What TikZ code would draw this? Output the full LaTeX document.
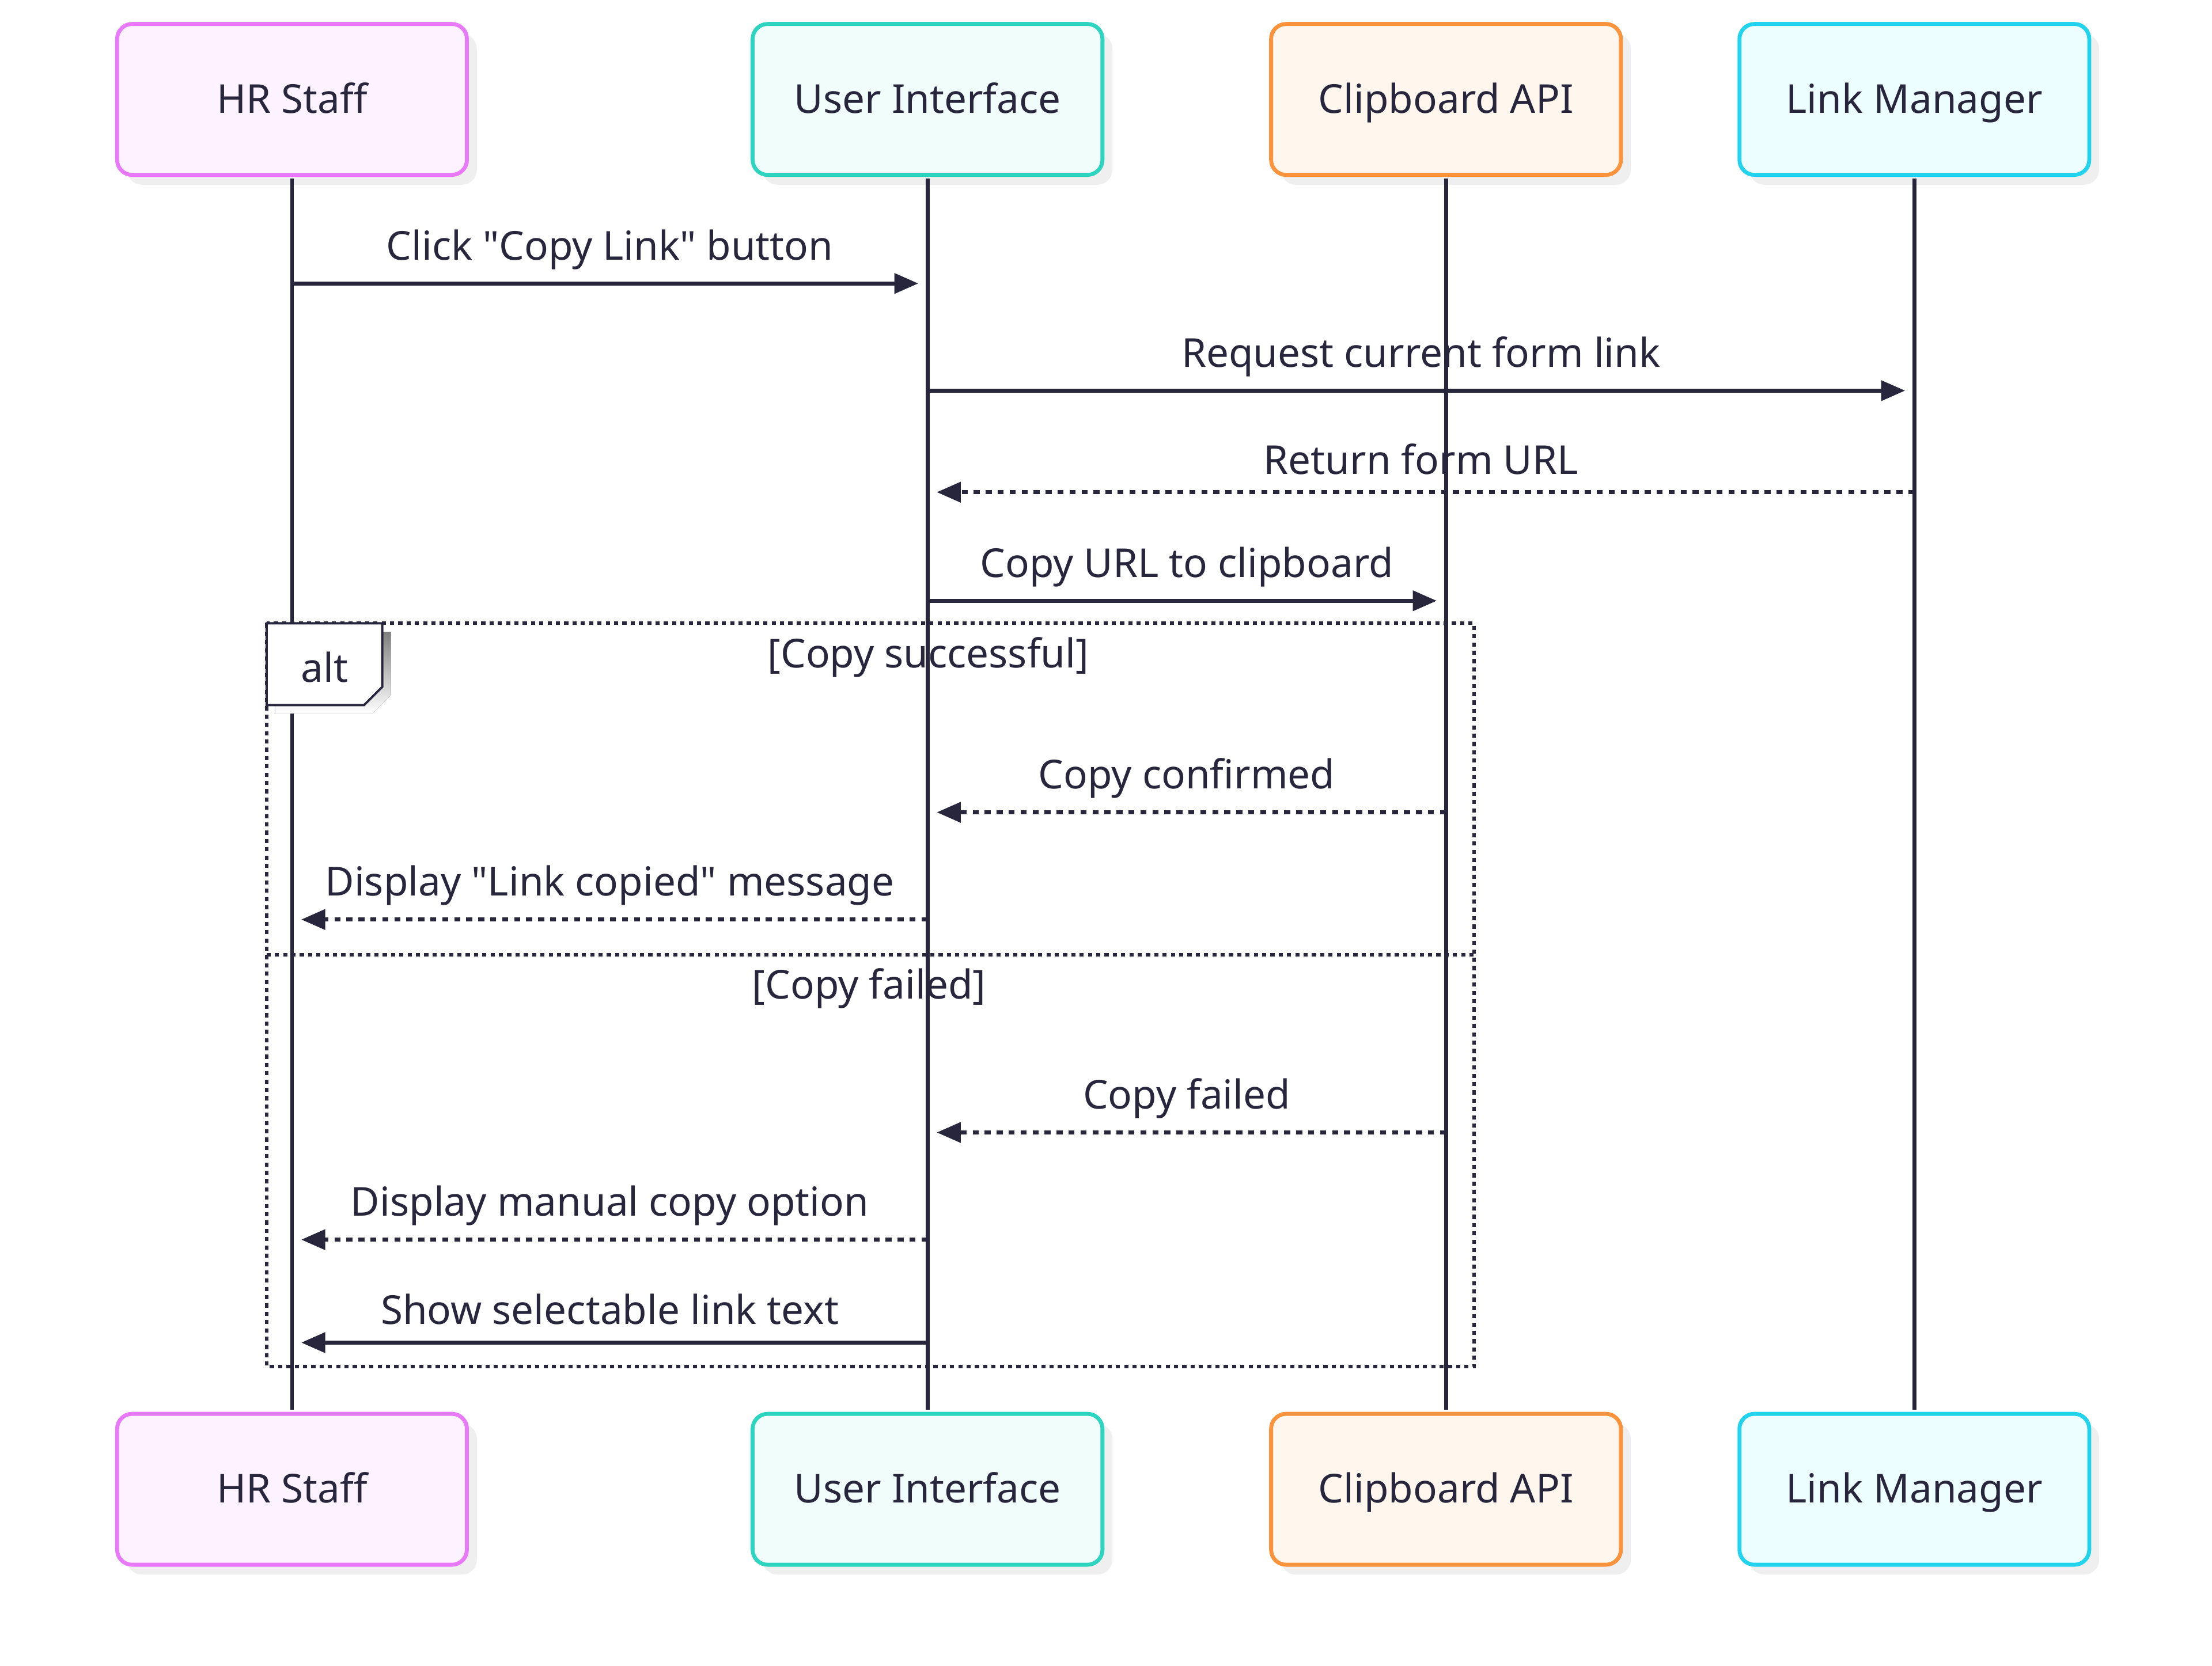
\documentclass[tikz,border=0pt]{standalone}
\usepackage{fontspec}
\setmainfont{Noto Sans}[Ligatures=TeXOff]
\usetikzlibrary{arrows.meta,shadows}
\definecolor{ink}{HTML}{28263D}
\definecolor{shade}{HTML}{EFEFEF}
\definecolor{hrb}{HTML}{E879F9}\definecolor{hrf}{HTML}{FDF2FF}
\definecolor{uib}{HTML}{2DD4BF}\definecolor{uif}{HTML}{F0FDFA}
\definecolor{cbb}{HTML}{FB923C}\definecolor{cbf}{HTML}{FFF7ED}
\definecolor{lmb}{HTML}{22D3EE}\definecolor{lmf}{HTML}{ECFEFF}
\tikzset{
  actorbox/.style={draw, rounded corners=6.5pt, line width=1.7pt, minimum width=151.8pt, minimum height=65.5pt,
    text=ink, font=\fontsize{17.3}{20}\selectfont, inner sep=0pt, text height=12pt, text depth=0.2pt,
    drop shadow={shadow xshift=4.3pt, shadow yshift=-4.3pt, fill=shade, opacity=1}},
  life/.style={draw=ink, line width=1.7pt},
  msg/.style={draw=ink, line width=1.7pt, -{Triangle[length=10.4pt,width=8.6pt]}, shorten >=4pt},
  reply/.style={msg, dash pattern=on 2.6pt off 2.6pt},
  lbl/.style={anchor=base, yshift=10.3pt, inner sep=0pt, text=ink, font=\fontsize{17.3}{20}\selectfont},
  cond/.style={inner sep=0pt, text=ink, font=\fontsize{17.3}{20}\selectfont},
  altline/.style={draw=ink, line width=1.5pt, dash pattern=on 1.8pt off 1.8pt},
}
\begin{document}
\begin{tikzpicture}[x=0.6122pt,y=-0.6122pt]
\useasboundingbox (0,0) rectangle (1568,1181);
% actor boxes
\node[actorbox, draw=hrb, fill=hrf] (hrT) at (207,70.5) {HR Staff};
\node[actorbox, draw=uib, fill=uif] (uiT) at (657.5,70.5) {User Interface};
\node[actorbox, draw=cbb, fill=cbf] (cbT) at (1025,70.5) {Clipboard API};
\node[actorbox, draw=lmb, fill=lmf] (lmT) at (1357,70.5) {Link Manager};
\node[actorbox, draw=hrb, fill=hrf] (hrB) at (207,1056) {HR Staff};
\node[actorbox, draw=uib, fill=uif] (uiB) at (657.5,1056) {User Interface};
\node[actorbox, draw=cbb, fill=cbf] (cbB) at (1025,1056) {Clipboard API};
\node[actorbox, draw=lmb, fill=lmf] (lmB) at (1357,1056) {Link Manager};
% lifelines
\draw[life] ([yshift=-0.85pt]hrT.south) -- ([yshift=0.85pt]hrB.north);
\draw[life] ([yshift=-0.85pt]uiT.south) -- ([yshift=0.85pt]uiB.north);
\draw[life] ([yshift=-0.85pt]cbT.south) -- ([yshift=0.85pt]cbB.north);
\draw[life] ([yshift=-0.85pt]lmT.south) -- ([yshift=0.85pt]lmB.north);
% alt frame
\draw[altline] (189,442) rectangle (1045,969);
\draw[altline] (189,677) -- (1045,677);
\fill[shade] (195,448) -- (277,448) -- (277,493) -- (264,506) -- (195,506) -- cycle;
\draw[ink, line width=1pt, fill=white] (189,442) -- (271,442) -- (271,487) -- (258,500) -- (189,500) -- cycle;
\node[cond] (altlbl) at (230,473) {alt};
\node[cond] (c1) at (658,466) {[Copy successful]};
\node[cond] (c2) at (616,701) {[Copy failed]};
% message coordinates
\coordinate (m1a) at (207,201);  \coordinate (m1b) at (657.5,201);
\coordinate (m2a) at (657.5,277); \coordinate (m2b) at (1357,277);
\coordinate (m3a) at (1357,349); \coordinate (m3b) at (657.5,349);
\coordinate (m4a) at (657.5,426); \coordinate (m4b) at (1025,426);
\coordinate (m5a) at (1025,576); \coordinate (m5b) at (657.5,576);
\coordinate (m6a) at (657.5,652); \coordinate (m6b) at (207,652);
\coordinate (m7a) at (1025,803); \coordinate (m7b) at (657.5,803);
\coordinate (m8a) at (657.5,879); \coordinate (m8b) at (207,879);
\coordinate (m9a) at (657.5,952); \coordinate (m9b) at (207,952);
\draw[msg] (m1a) -- node[lbl]{Click "Copy Link" button} (m1b);
\draw[msg] (m2a) -- node[lbl]{Request current form link} (m2b);
\draw[reply] (m3a) -- node[lbl, yshift=-2.4pt]{Return form URL} (m3b);
\draw[msg] (m4a) -- node[lbl]{Copy URL to clipboard} (m4b);
\draw[reply] (m5a) -- node[lbl]{Copy confirmed} (m5b);
\draw[reply] (m6a) -- node[lbl]{Display "Link copied" message} (m6b);
\draw[reply] (m7a) -- node[lbl]{Copy failed} (m7b);
\draw[reply] (m8a) -- node[lbl]{Display manual copy option} (m8b);
\draw[msg] (m9a) -- node[lbl, yshift=-2.4pt]{Show selectable link text} (m9b);
\end{tikzpicture}
\end{document}
